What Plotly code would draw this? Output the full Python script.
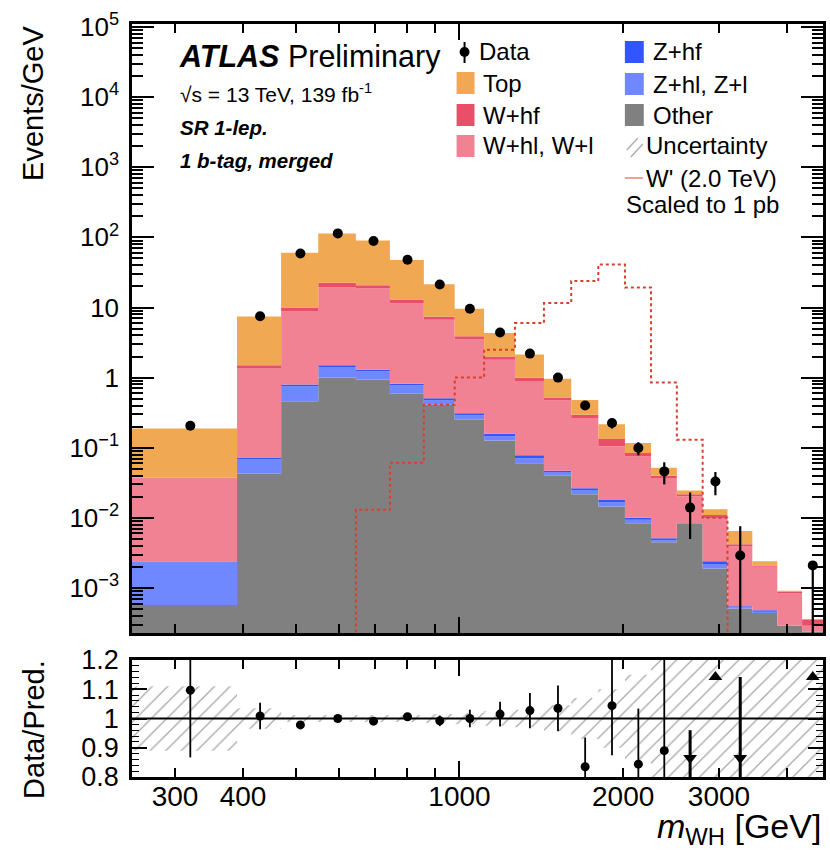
import numpy as np
import plotly.graph_objects as go

# ---------------- data ----------------
edges = [250, 390, 470, 550, 645, 745, 860, 980, 1110, 1265, 1430, 1605, 1800,
         2015, 2250, 2510, 2800, 3110, 3455, 3840, 4265, 4660]

other = [0.00057, 0.0425, 0.46, 1.0, 0.94, 0.59, 0.41, 0.25, 0.127, 0.060, 0.040,
         0.0218, 0.0145, 0.0084, 0.0045, 0.0084, 0.0019, 0.00051, 0.00044, 0.00029, 0.00024]
z_hl = [0.00173, 0.0255, 0.29, 0.39, 0.29, 0.19, 0.06, 0.04, 0.018, 0.011, 0.005,
        0.0032, 0.002, 0.001, 0.0003, 0.0, 0.0003, 0.00002, 0.00002, 0.0, 0.0]
z_hf = [0.00008, 0.0047, 0.05, 0.11, 0.07, 0.04, 0.04, 0.02, 0.013, 0.007, 0.002,
        0.0015, 0.0015, 0.0006, 0.0003, 0.0, 0.0002, 0.00002, 0.00002, 0.0, 0.0]
w_hl = [0.0345, 1.30, 8.0, 18.0, 17.4, 10.6, 6.2, 3.19, 1.64, 0.82, 0.423,
        0.2385, 0.087, 0.065, 0.0319, 0.0119, 0.0075, 0.00335, 0.00152, 0.00056, 0.00005]
w_hf = [0.0005, 0.13, 1.2, 3.0, 2.1, 1.6, 0.7, 0.4, 0.2, 0.10, 0.05,
        0.031, 0.028, 0.009, 0.003, 0.0015, 0.0011, 0.0003, 0.0001, 0.00004, 0.00006]
top = [0.150, 5.94, 50.5, 91.5, 69.2, 34.7, 14.1, 5.7, 2.33, 1.14, 0.446,
       0.183, 0.0825, 0.033, 0.0117, 0.0028, 0.0023, 0.0023, 0.0003, 0.00002, 0.00001]

data = [0.206, 7.5, 59, 114, 89, 48, 21.3, 9.6, 4.4, 2.2, 1.0, 0.40, 0.225, 0.099,
        0.046, 0.014, 0.033, 0.0029, None, None, 0.0021]
data_err_up = [0.025, 0.33, 0.7, 0.9, 0.9, 0.6, 0.4, 0.29, 0.18, 0.13, 0.075, 0.048,
               0.037, 0.021, 0.016, 0.009, 0.012, 0.0047, 0, 0, 0.0003]
data_err_dn = [0.025, 0.33, 0.7, 0.9, 0.9, 0.6, 0.4, 0.29, 0.18, 0.13, 0.075, 0.048,
               0.037, 0.021, 0.016, 0.009, 0.012, 0.0029, 0, 0, 0.0021]

signal = [0, 0, 0, 0, 0.013, 0.061, 0.41, 1.0, 2.5, 6.0, 11.6, 23.8, 41, 19.3,
          0.85, 0.13, 0.01, 0, 0, 0, 0]

ratio = [1.097, 1.0085, 0.978, 1.0, 0.991, 1.006, 0.992, 1.0, 1.015, 1.027, 1.035,
         0.835, 1.044, 0.844, 0.89, None, None, None, None, None, None]
ratio_err = [0.23, 0.045, 0.012, 0.008, 0.01, 0.012, 0.018, 0.03, 0.042, 0.06, 0.078,
             0.1, 0.17, 0.19, 0.31, 0, 0, 0, 0, 0, 0]
unc_rel = [0.11, 0.035, 0.012, 0.01, 0.01, 0.012, 0.015, 0.02, 0.025, 0.03, 0.045,
           0.07, 0.1, 0.15, 0.3, 0.5, 0.5, 0.5, 0.5, 0.5, 0.5]
# off-scale ratio indicators
ratio_up_bins = [16, 20]
ratio_down_bins = [15, 17]
ratio_down_top = [0.96, 1.142]
ratio_up_level = 1.142
ratio_down_level = 0.865

y_ticks = [1e-3, 1e-2, 1e-1, 1, 10, 1e2, 1e3, 1e4, 1e5]
y_ticktext = ["10<sup>\u22123</sup>", "10<sup>\u22122</sup>", "10<sup>\u22121</sup>", "1", "10",
              "10<sup>2</sup>", "10<sup>3</sup>", "10<sup>4</sup>", "10<sup>5</sup>"]
x_ticks = [300, 400, 1000, 2000, 3000]
x_ticktext = ["300", "400", "1000", "2000", "3000"]
x_minor = [500, 600, 700, 800, 900, 4000]
x_decade = [1000]
r_ticks = [0.8, 0.9, 1.0, 1.1, 1.2]
r_ticktext = ["0.8", "0.9", "1", "1.1", "1.2"]

# ---------------- styling ----------------
FONT = "Liberation Sans, Arial, Helvetica, sans-serif"
C_TOP = "#F0A852"
C_WHF = "#E8506A"
C_WHL = "#F08293"
C_ZHF = "#3355FF"
C_ZHL = "#6F88FF"
C_OTH = "#808080"
C_SIG = "#D8402E"

edges_a = np.array(edges, dtype=float)
centers = 0.5 * (edges_a[:-1] + edges_a[1:])
FLOOR = 1e-9

fig = go.Figure()

# baseline for stacking
fig.add_trace(go.Scatter(x=edges, y=[FLOOR] * len(edges), mode="lines",
                         line=dict(width=0, shape="hv"), showlegend=False,
                         hoverinfo="skip", xaxis="x", yaxis="y"))
cum = np.zeros(len(other))
for comp, col in [(other, C_OTH), (z_hl, C_ZHL), (z_hf, C_ZHF),
                  (w_hl, C_WHL), (w_hf, C_WHF), (top, C_TOP)]:
    cum = cum + np.array(comp, dtype=float)
    ys = list(cum) + [cum[-1]]
    fig.add_trace(go.Scatter(x=edges, y=ys, mode="lines",
                             line=dict(width=0, shape="hv", color=col),
                             fill="tonexty", fillcolor=col, showlegend=False,
                             hoverinfo="skip", xaxis="x", yaxis="y"))

# signal
sig = np.array(signal, dtype=float)
sig = np.where(sig > 0, sig, FLOOR)
fig.add_trace(go.Scatter(x=edges, y=list(sig) + [FLOOR], mode="lines",
                         line=dict(width=2, shape="hv", color=C_SIG, dash="dot"),
                         showlegend=False, xaxis="x", yaxis="y"))

# data
d = np.array([np.nan if v is None else v for v in data], dtype=float)
dn = np.minimum(np.array(data_err_dn, dtype=float), np.nan_to_num(d) * 0.999)
fig.add_trace(go.Scatter(x=centers, y=d, mode="markers",
                         marker=dict(color="black", size=10),
                         error_y=dict(type="data", array=data_err_up, arrayminus=list(dn),
                                      color="black", thickness=2.2, width=0),
                         showlegend=False, xaxis="x", yaxis="y"))

# ratio uncertainty band (hatched)
px_, py_ = [], []
for i in range(len(unc_rel)):
    px_ += [edges[i], edges[i + 1]]
    py_ += [1 + unc_rel[i], 1 + unc_rel[i]]
for i in reversed(range(len(unc_rel))):
    px_ += [edges[i + 1], edges[i]]
    py_ += [1 - unc_rel[i], 1 - unc_rel[i]]
fig.add_trace(go.Scatter(x=px_, y=py_, mode="lines", fill="toself",
                         line=dict(width=0), fillcolor="rgba(0,0,0,0)",
                         fillpattern=dict(shape="/", fgcolor="#a8a8a8", bgcolor="rgba(255,255,255,0)",
                                          size=11, solidity=0.12, fillmode="replace"),
                         showlegend=False, hoverinfo="skip", xaxis="x2", yaxis="y2"))

# ratio points
r = np.array([np.nan if v is None else v for v in ratio], dtype=float)
fig.add_trace(go.Scatter(x=centers, y=r, mode="markers",
                         marker=dict(color="black", size=9),
                         error_y=dict(type="data", array=ratio_err, color="black",
                                      thickness=1.8, width=0),
                         showlegend=False, xaxis="x2", yaxis="y2"))
# off-scale up
fig.add_trace(go.Scatter(x=[centers[i] for i in ratio_up_bins],
                         y=[ratio_up_level] * len(ratio_up_bins), mode="markers",
                         marker=dict(color="black", size=12, symbol="triangle-up"),
                         showlegend=False, xaxis="x2", yaxis="y2"))
# off-scale down (arrows)
fig.add_trace(go.Scatter(x=[centers[i] for i in ratio_down_bins],
                         y=[ratio_down_level] * len(ratio_down_bins), mode="markers",
                         marker=dict(color="black", size=12, symbol="triangle-down"),
                         error_y=dict(type="data",
                                      array=[t - ratio_down_level for t in ratio_down_top],
                                      arrayminus=[0.2] * len(ratio_down_bins),
                                      color="black", thickness=3, width=0),
                         showlegend=False, xaxis="x2", yaxis="y2"))

# ---------------- layout ----------------
L, R, T, B = 132, 4, 24, 75
WID, HEI = 830, 852
PW, PH = WID - L - R, HEI - T - B


def X(p):
    return (p - L) / PW


def Y(p):
    return (HEI - B - p) / PH


ax_common = dict(showline=True, linecolor="black", linewidth=2.5, mirror="ticks",
                 ticks="inside", tickcolor="black", showgrid=False, zeroline=False)

xrange_ = [np.log10(edges[0]), np.log10(edges[-1])]
minor_x = dict(tickvals=x_minor, ticklen=9, tickwidth=1.5, ticks="inside",
               tickcolor="black", showgrid=False)
fig.update_layout(
    width=WID, height=HEI, margin=dict(l=L, r=R, t=T, b=B),
    paper_bgcolor="white", plot_bgcolor="white", showlegend=False,
    font=dict(family=FONT, color="black"),
    xaxis=dict(type="log", range=xrange_, domain=[0, 1], anchor="y",
               tickvals=x_ticks, ticktext=x_ticktext, showticklabels=False,
               ticklen=9, tickwidth=1.5, minor=minor_x, **ax_common),
    yaxis=dict(type="log", range=[-3.642, 5.043], domain=[Y(633), 1], anchor="x",
               tickvals=y_ticks, ticktext=y_ticktext, ticklen=22, tickwidth=1.8,
               ticklabelstandoff=5, tickfont=dict(family=FONT, size=26, color="black"),
               minor=dict(tickvals=[m * 10.0 ** k for k in range(-4, 5) for m in range(2, 10)],
                          ticklen=11, tickwidth=1.5, ticks="inside", tickcolor="black",
                          showgrid=False),
               **ax_common),
    xaxis2=dict(type="log", range=xrange_, domain=[0, 1], anchor="y2",
                tickvals=x_ticks, ticktext=x_ticktext, ticklen=9, tickwidth=1.5,
                ticklabelstandoff=-7, tickfont=dict(family=FONT, size=28, color="black"),
                minor=minor_x, **ax_common),
    yaxis2=dict(range=[0.8, 1.2], domain=[0, Y(660)], anchor="x2",
                tickvals=r_ticks, ticktext=r_ticktext, ticklen=15, tickwidth=1.8,
                ticklabelstandoff=5, tickfont=dict(family=FONT, size=27, color="black"),
                minor=dict(dtick=0.02, tick0=0.8, ticklen=7, tickwidth=1.2, ticks="inside",
                           tickcolor="black", showgrid=False),
                **ax_common),
    # overlay axes carrying only the longer decade tick at 1000
    xaxis3=dict(type="log", range=xrange_, overlaying="x", anchor="y", side="bottom",
                tickvals=x_decade, ticks="inside", ticklen=16, tickwidth=1.8, tickcolor="black",
                showticklabels=False, showline=False, showgrid=False, zeroline=False,
                mirror="ticks"),
    xaxis4=dict(type="log", range=xrange_, overlaying="x2", anchor="y2", side="bottom",
                tickvals=x_decade, ticks="inside", ticklen=16, tickwidth=1.8, tickcolor="black",
                showticklabels=False, showline=False, showgrid=False, zeroline=False,
                mirror="ticks"),
)

# invisible traces attaching the overlay axes
fig.add_trace(go.Scatter(x=[edges[0]], y=[FLOOR], mode="markers", marker=dict(opacity=0),
                         showlegend=False, hoverinfo="skip", xaxis="x3", yaxis="y"))
fig.add_trace(go.Scatter(x=[edges[0]], y=[0.0], mode="markers", marker=dict(opacity=0),
                         showlegend=False, hoverinfo="skip", xaxis="x4", yaxis="y2"))

# reference line at 1
fig.add_shape(type="line", xref="x2 domain", x0=0, x1=1, yref="y2", y0=1, y1=1,
              line=dict(color="black", width=1.8))

ann = []


def text(x, y, s, size, xanchor="left", yanchor="middle", angle=0):
    ann.append(dict(x=X(x), y=Y(y), xref="paper", yref="paper", text=s, showarrow=False,
                    xanchor=xanchor, yanchor=yanchor, textangle=angle,
                    font=dict(family=FONT, size=size, color="black")))


text(32, 24, "Events/GeV", 29, xanchor="center", yanchor="top", angle=-90)
text(33, 658, "Data/Pred.", 29, xanchor="center", yanchor="top", angle=-90)
text(826, 852, "<i>m</i><sub>WH</sub> [GeV]", 34, xanchor="right", yanchor="bottom")

text(177, 57, "<b><i>ATLAS</i></b> Preliminary", 30.5)
text(178, 93, "\u221As = 13 TeV, 139 fb<sup>-1</sup>", 21)
text(178, 128, "<b><i>SR 1-lep.</i></b>", 20.5)
text(178, 161, "<b><i>1 b-tag, merged</i></b>", 20.5)

# legend
leg_left = [("Top", C_TOP, 83), ("W+hf", C_WHF, 115), ("W+hl, W+l", C_WHL, 146)]
leg_right = [("Z+hf", C_ZHF, 52), ("Z+hl, Z+l", C_ZHL, 84), ("Other", C_OTH, 115)]
LEG = 24
text(478, 52, "Data", LEG)
fig.add_shape(type="line", xref="paper", yref="paper", x0=X(466), x1=X(466), y0=Y(42), y1=Y(63),
              line=dict(color="black", width=2))
fig.add_shape(type="circle", xref="paper", yref="paper", x0=X(461), x1=X(471), y0=Y(47), y1=Y(57),
              fillcolor="black", line=dict(color="black", width=0))
for lab, col, yc in leg_left:
    fig.add_shape(type="rect", xref="paper", yref="paper", x0=X(458), x1=X(476),
                  y0=Y(yc - 11), y1=Y(yc + 11), fillcolor=col, line=dict(width=0))
    text(483, yc, lab, LEG)
for lab, col, yc in leg_right:
    fig.add_shape(type="rect", xref="paper", yref="paper", x0=X(627), x1=X(646),
                  y0=Y(yc - 11), y1=Y(yc + 11), fillcolor=col, line=dict(width=0))
    text(653, yc, lab, LEG)
# uncertainty symbol (hatch strokes)
for (a, b) in [((629, 150), (640, 138)), ((633, 157), (645, 144))]:
    fig.add_shape(type="line", xref="paper", yref="paper", x0=X(a[0]), y0=Y(a[1]),
                  x1=X(b[0]), y1=Y(b[1]), line=dict(color="#b0b0b0", width=1.5))
text(646, 146, "Uncertainty", LEG)
fig.add_shape(type="line", xref="paper", yref="paper", x0=X(627), x1=X(645), y0=Y(178), y1=Y(178),
              line=dict(color="#E88070", width=1.5))
text(646, 178, "W' (2.0 TeV)", LEG)
text(626, 204, "Scaled to 1 pb", LEG)

fig.update_layout(annotations=ann)
fig.write_html("out.html")
